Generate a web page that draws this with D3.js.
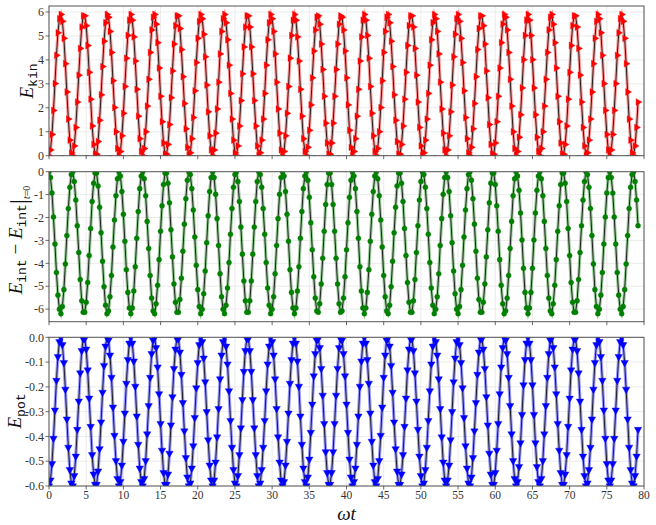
<!DOCTYPE html>
<html><head><meta charset="utf-8">
<script src="https://cdn.jsdelivr.net/npm/d3@7"></script>
<style>body{margin:0;background:#fff}</style>
</head><body><svg id="c" width="656" height="525"></svg>
<script>
// sampling step in omega*t
const dt = 0.2;
const xTicks = [0,5,10,15,20,25,30,35,40,45,50,55,60,65,70,75,80];
const ekinTicks = [0,1,2,3,4,5,6];
const eintTicks = [0,-1,-2,-3,-4,-5,-6];
const epotTicks = [0,-0.1,-0.2,-0.3,-0.4,-0.5,-0.6];

const ekin = [
0,0.24,0.89,1.89,3.01,4.19,5.13,5.72,5.9,5.61,4.9,3.84,2.66,1.53,0.65,0.12,
0,0.41,1.18,2.24,3.36,4.48,5.37,5.84,5.84,5.43,4.6,3.48,2.36,1.24,0.47,0.06,
0.06,0.59,1.48,2.54,3.72,4.78,5.55,5.9,5.78,5.19,4.31,3.13,2.01,1,0.3,0,
0.18,0.83,1.77,2.89,4.07,5.02,5.66,5.9,5.66,4.96,3.95,2.77,1.65,0.71,0.18,
0,0.3,1,2.07,3.19,4.31,5.25,5.78,5.9,5.49,4.72,3.66,2.48,1.42,0.53,0.06,
0.06,0.47,1.3,2.42,3.54,4.66,5.43,5.84,5.84,5.31,4.43,3.3,2.18,1.12,0.35,0,
0.12,0.71,1.59,2.71,3.89,4.9,5.61,5.9,5.72,5.07,4.13,2.95,1.83,0.83,0.24,
0,0.24,0.94,1.95,3.07,4.25,5.19,5.72,5.9,5.55,4.84,3.78,2.6,1.53,0.65,0.12,
0,0.41,1.24,2.3,3.42,4.54,5.37,5.84,5.84,5.37,4.54,3.42,2.3,1.24,0.41,0,
0.12,0.65,1.53,2.6,3.78,4.84,5.55,5.9,5.72,5.19,4.25,3.07,1.95,0.94,0.24,0,
0.18,0.83,1.77,2.89,4.07,5.02,5.66,5.9,5.66,4.96,3.95,2.77,1.65,0.71,0.18,
0,0.35,1.06,2.12,3.25,4.37,5.25,5.78,5.84,5.49,4.66,3.6,2.48,1.36,0.53,0.06,
0.06,0.53,1.36,2.48,3.6,4.66,5.49,5.84,5.78,5.25,4.37,3.25,2.12,1.06,0.35,0,
0.18,0.71,1.65,2.77,3.95,4.96,5.66,5.9,5.66,5.02,4.07,2.89,1.77,0.83,0.18,
0,0.3,1,2.01,3.13,4.31,5.19,5.78,5.9,5.55,4.78,3.72,2.54,1.48,0.59,0.06,
0.06,0.47,1.24,2.36,3.48,4.6,5.43,5.84,5.84,5.37,4.48,3.36,2.24,1.18,0.41,0,
0.12,0.65,1.53,2.6,3.78,4.84,5.55,5.9,5.72,5.19,4.25,3.07,1.95,0.94,0.24,0,
0.24,0.83,1.83,2.95,4.13,5.07,5.72,5.9,5.61,4.9,3.89,2.71,1.59,0.71,0.12,
0,0.35,1.12,2.18,3.3,4.43,5.31,5.84,5.84,5.43,4.66,3.54,2.42,1.3,0.47,0.06,
0.06,0.53,1.42,2.48,3.66,4.72,5.49,5.9,5.78,5.25,4.31,3.19,2.07,1,0.3,0,
0.18,0.77,1.71,2.83,4.01,5.02,5.66,5.9,5.66,5.02,4.01,2.83,1.71,0.77,0.18,
0,0.3,1,2.07,3.19,4.31,5.25,5.78,5.9,5.49,4.72,3.66,2.48,1.42,0.53,0.06,
0.06,0.47,1.24,2.36,3.48,4.6,5.43,5.84,5.84,5.37,4.48,3.36,2.24,1.18,0.41,0,
0.12,0.65,1.53,2.66,3.84,4.9,5.61,5.9,5.72,5.13,4.19,3.01,1.89,0.89,0.24,
0,0.24,0.89,1.89,3.01,4.19,5.13,5.72,5.9,5.61,4.9,3.84,2.66,1.53,0.65,0.12,
0,0.41,1.18,2.24
];

const eint = [
0,-0.25,-0.93,-1.98,-3.16,-4.4,-5.39,-6.01,-6.2,-5.89,-5.15,-4.03,-2.79,-1.61,-0.68,-0.12,
0,-0.43,-1.24,-2.36,-3.53,-4.71,-5.64,-6.14,-6.14,-5.7,-4.84,-3.66,-2.48,-1.3,-0.5,-0.06,
-0.06,-0.62,-1.55,-2.67,-3.91,-5.02,-5.83,-6.2,-6.08,-5.46,-4.53,-3.29,-2.11,-1.05,-0.31,0,
-0.19,-0.87,-1.86,-3.04,-4.28,-5.27,-5.95,-6.2,-5.95,-5.21,-4.15,-2.91,-1.74,-0.74,-0.19,
0,-0.31,-1.05,-2.17,-3.35,-4.53,-5.52,-6.08,-6.2,-5.77,-4.96,-3.84,-2.6,-1.49,-0.56,-0.06,
-0.06,-0.5,-1.36,-2.54,-3.72,-4.9,-5.7,-6.14,-6.14,-5.58,-4.65,-3.47,-2.29,-1.18,-0.37,0,
-0.12,-0.74,-1.67,-2.85,-4.09,-5.15,-5.89,-6.2,-6.01,-5.33,-4.34,-3.1,-1.92,-0.87,-0.25,
0,-0.25,-0.99,-2.05,-3.22,-4.46,-5.46,-6.01,-6.2,-5.83,-5.08,-3.97,-2.73,-1.61,-0.68,-0.12,
0,-0.43,-1.3,-2.42,-3.6,-4.77,-5.64,-6.14,-6.14,-5.64,-4.77,-3.6,-2.42,-1.3,-0.43,0,
-0.12,-0.68,-1.61,-2.73,-3.97,-5.08,-5.83,-6.2,-6.01,-5.46,-4.46,-3.22,-2.05,-0.99,-0.25,0,
-0.19,-0.87,-1.86,-3.04,-4.28,-5.27,-5.95,-6.2,-5.95,-5.21,-4.15,-2.91,-1.74,-0.74,-0.19,
0,-0.37,-1.12,-2.23,-3.41,-4.59,-5.52,-6.08,-6.14,-5.77,-4.9,-3.78,-2.6,-1.43,-0.56,-0.06,
-0.06,-0.56,-1.43,-2.6,-3.78,-4.9,-5.77,-6.14,-6.08,-5.52,-4.59,-3.41,-2.23,-1.12,-0.37,0,
-0.19,-0.74,-1.74,-2.91,-4.15,-5.21,-5.95,-6.2,-5.95,-5.27,-4.28,-3.04,-1.86,-0.87,-0.19,
0,-0.31,-1.05,-2.11,-3.29,-4.53,-5.46,-6.08,-6.2,-5.83,-5.02,-3.91,-2.67,-1.55,-0.62,-0.06,
-0.06,-0.5,-1.3,-2.48,-3.66,-4.84,-5.7,-6.14,-6.14,-5.64,-4.71,-3.53,-2.36,-1.24,-0.43,0,
-0.12,-0.68,-1.61,-2.73,-3.97,-5.08,-5.83,-6.2,-6.01,-5.46,-4.46,-3.22,-2.05,-0.99,-0.25,0,
-0.25,-0.87,-1.92,-3.1,-4.34,-5.33,-6.01,-6.2,-5.89,-5.15,-4.09,-2.85,-1.67,-0.74,-0.12,
0,-0.37,-1.18,-2.29,-3.47,-4.65,-5.58,-6.14,-6.14,-5.7,-4.9,-3.72,-2.54,-1.36,-0.5,-0.06,
-0.06,-0.56,-1.49,-2.6,-3.84,-4.96,-5.77,-6.2,-6.08,-5.52,-4.53,-3.35,-2.17,-1.05,-0.31,0,
-0.19,-0.81,-1.8,-2.98,-4.22,-5.27,-5.95,-6.2,-5.95,-5.27,-4.22,-2.98,-1.8,-0.81,-0.19,
0,-0.31,-1.05,-2.17,-3.35,-4.53,-5.52,-6.08,-6.2,-5.77,-4.96,-3.84,-2.6,-1.49,-0.56,-0.06,
-0.06,-0.5,-1.3,-2.48,-3.66,-4.84,-5.7,-6.14,-6.14,-5.64,-4.71,-3.53,-2.36,-1.24,-0.43,0,
-0.12,-0.68,-1.61,-2.79,-4.03,-5.15,-5.89,-6.2,-6.01,-5.39,-4.4,-3.16,-1.98,-0.93,-0.25,
0,-0.25,-0.93,-1.98,-3.16,-4.4,-5.39,-6.01,-6.2,-5.89,-5.15,-4.03,-2.79,-1.61,-0.68,-0.12,
0,-0.43,-1.24,-2.36
];

const epot = [
-0.6,-0.576,-0.51,-0.408,-0.294,-0.174,-0.078,-0.018,0,-0.03,-0.102,-0.21,-0.33,-0.444,-0.534,-0.588,
-0.6,-0.558,-0.48,-0.372,-0.258,-0.144,-0.054,-0.006,-0.006,-0.048,-0.132,-0.246,-0.36,-0.474,-0.552,-0.594,
-0.594,-0.54,-0.45,-0.342,-0.222,-0.114,-0.036,0,-0.012,-0.072,-0.162,-0.282,-0.396,-0.498,-0.57,-0.6,
-0.582,-0.516,-0.42,-0.306,-0.186,-0.09,-0.024,0,-0.024,-0.096,-0.198,-0.318,-0.432,-0.528,-0.582,
-0.6,-0.57,-0.498,-0.39,-0.276,-0.162,-0.066,-0.012,0,-0.042,-0.12,-0.228,-0.348,-0.456,-0.546,-0.594,
-0.594,-0.552,-0.468,-0.354,-0.24,-0.126,-0.048,-0.006,-0.006,-0.06,-0.15,-0.264,-0.378,-0.486,-0.564,-0.6,
-0.588,-0.528,-0.438,-0.324,-0.204,-0.102,-0.03,0,-0.018,-0.084,-0.18,-0.3,-0.414,-0.516,-0.576,
-0.6,-0.576,-0.504,-0.402,-0.288,-0.168,-0.072,-0.018,0,-0.036,-0.108,-0.216,-0.336,-0.444,-0.534,-0.588,
-0.6,-0.558,-0.474,-0.366,-0.252,-0.138,-0.054,-0.006,-0.006,-0.054,-0.138,-0.252,-0.366,-0.474,-0.558,-0.6,
-0.588,-0.534,-0.444,-0.336,-0.216,-0.108,-0.036,0,-0.018,-0.072,-0.168,-0.288,-0.402,-0.504,-0.576,-0.6,
-0.582,-0.516,-0.42,-0.306,-0.186,-0.09,-0.024,0,-0.024,-0.096,-0.198,-0.318,-0.432,-0.528,-0.582,
-0.6,-0.564,-0.492,-0.384,-0.27,-0.156,-0.066,-0.012,-0.006,-0.042,-0.126,-0.234,-0.348,-0.462,-0.546,-0.594,
-0.594,-0.546,-0.462,-0.348,-0.234,-0.126,-0.042,-0.006,-0.012,-0.066,-0.156,-0.27,-0.384,-0.492,-0.564,-0.6,
-0.582,-0.528,-0.432,-0.318,-0.198,-0.096,-0.024,0,-0.024,-0.09,-0.186,-0.306,-0.42,-0.516,-0.582,
-0.6,-0.57,-0.498,-0.396,-0.282,-0.162,-0.072,-0.012,0,-0.036,-0.114,-0.222,-0.342,-0.45,-0.54,-0.594,
-0.594,-0.552,-0.474,-0.36,-0.246,-0.132,-0.048,-0.006,-0.006,-0.054,-0.144,-0.258,-0.372,-0.48,-0.558,-0.6,
-0.588,-0.534,-0.444,-0.336,-0.216,-0.108,-0.036,0,-0.018,-0.072,-0.168,-0.288,-0.402,-0.504,-0.576,-0.6,
-0.576,-0.516,-0.414,-0.3,-0.18,-0.084,-0.018,0,-0.03,-0.102,-0.204,-0.324,-0.438,-0.528,-0.588,
-0.6,-0.564,-0.486,-0.378,-0.264,-0.15,-0.06,-0.006,-0.006,-0.048,-0.126,-0.24,-0.354,-0.468,-0.552,-0.594,
-0.594,-0.546,-0.456,-0.348,-0.228,-0.12,-0.042,0,-0.012,-0.066,-0.162,-0.276,-0.39,-0.498,-0.57,-0.6,
-0.582,-0.522,-0.426,-0.312,-0.192,-0.09,-0.024,0,-0.024,-0.09,-0.192,-0.312,-0.426,-0.522,-0.582,
-0.6,-0.57,-0.498,-0.39,-0.276,-0.162,-0.066,-0.012,0,-0.042,-0.12,-0.228,-0.348,-0.456,-0.546,-0.594,
-0.594,-0.552,-0.474,-0.36,-0.246,-0.132,-0.048,-0.006,-0.006,-0.054,-0.144,-0.258,-0.372,-0.48,-0.558,-0.6,
-0.588,-0.534,-0.444,-0.33,-0.21,-0.102,-0.03,0,-0.018,-0.078,-0.174,-0.294,-0.408,-0.51,-0.576,
-0.6,-0.576,-0.51,-0.408,-0.294,-0.174,-0.078,-0.018,0,-0.03,-0.102,-0.21,-0.33,-0.444,-0.534,-0.588,
-0.6,-0.558,-0.48,-0.372
];

const svg = d3.select('#c');
const left = 49, right = 644;
const x = d3.scaleLinear().domain([0, 80]).range([left, right]);
const serif = "'Liberation Serif','DejaVu Serif',serif";
const mono = "'Liberation Mono','DejaVu Sans Mono',monospace";

const panels = [
  {id:'kin', vals: ekin, top: 6, bottom: 155.7, domain: [0, 6.25], ticks: ekinTicks,
   fmt: d => String(d), color: '#ff0000', marker: 'right'},
  {id:'int', vals: eint, top: 171.7, bottom: 321.7, domain: [-6.55, 0], ticks: eintTicks,
   fmt: d => String(d), color: '#008000', marker: 'circle'},
  {id:'pot', vals: epot, top: 337.3, bottom: 486, domain: [-0.6, 0], ticks: epotTicks,
   fmt: d => d.toFixed(1), color: '#0000ff', marker: 'down'}
];

panels.forEach((p, pi) => {
  const y = d3.scaleLinear().domain(p.domain).range([p.bottom, p.top]);
  const g = svg.append('g');
  const clipId = 'clip-' + p.id;
  svg.append('clipPath').attr('id', clipId).append('rect')
    .attr('x', left).attr('y', p.top).attr('width', right - left).attr('height', p.bottom - p.top);

  // grid
  g.selectAll('.gx').data(xTicks).enter().append('line')
    .attr('x1', d => x(d)).attr('x2', d => x(d)).attr('y1', p.top).attr('y2', p.bottom)
    .attr('stroke', '#e6e6e6').attr('stroke-width', 0.8);
  g.selectAll('.gy').data(p.ticks).enter().append('line')
    .attr('x1', left).attr('x2', right).attr('y1', d => y(d)).attr('y2', d => y(d))
    .attr('stroke', '#e6e6e6').attr('stroke-width', 0.8);

  const pts = p.vals.map((v, i) => [i * dt, v]);
  const line = d3.line().x(d => x(d[0])).y(d => y(d[1]));
  const dg = g.append('g').attr('clip-path', `url(#${clipId})`);

  if (p.id === 'kin') {
    dg.append('line').attr('x1', x(0)).attr('x2', x(80)).attr('y1', y(0)).attr('y2', y(0))
      .attr('stroke', '#1a1a8c').attr('stroke-width', 1).attr('stroke-dasharray', '3,9').attr('opacity', 0.6);
  }

  dg.append('path').datum(pts).attr('d', line).attr('fill', 'none')
    .attr('stroke', p.color).attr('stroke-opacity', 0.4).attr('stroke-width', 3.2);
  dg.append('path').datum(pts).attr('d', line).attr('fill', 'none')
    .attr('stroke', '#111').attr('stroke-width', 0.9);

  let sym, rot;
  if (p.marker === 'right') { sym = d3.symbol(d3.symbolTriangle, 20); rot = 90; }
  else if (p.marker === 'down') { sym = d3.symbol(d3.symbolTriangle, 24); rot = 180; }
  else { sym = d3.symbol(d3.symbolCircle, 20); rot = 0; }
  dg.selectAll('.m').data(pts).enter().append('path')
    .attr('d', sym)
    .attr('transform', d => `translate(${x(d[0])},${y(d[1])}) rotate(${rot})`)
    .attr('fill', p.color).attr('stroke', p.color).attr('stroke-opacity', 0.5).attr('stroke-width', 0.8);

  // frame
  g.append('rect').attr('x', left).attr('y', p.top).attr('width', right - left).attr('height', p.bottom - p.top)
    .attr('fill', 'none').attr('stroke', '#555').attr('stroke-width', 1);

  // y ticks
  g.selectAll('.ty').data(p.ticks).enter().append('line')
    .attr('x1', left - 3.5).attr('x2', left).attr('y1', d => y(d)).attr('y2', d => y(d))
    .attr('stroke', '#444').attr('stroke-width', 0.8);
  g.selectAll('.tyl').data(p.ticks).enter().append('text')
    .attr('x', left - 5).attr('y', d => y(d)).attr('dy', '0.35em')
    .attr('text-anchor', 'end').attr('font-family', serif).attr('font-size', 12).attr('fill', '#333')
    .text(p.fmt);

  // x ticks
  g.selectAll('.tx').data(xTicks).enter().append('line')
    .attr('x1', d => x(d)).attr('x2', d => x(d)).attr('y1', p.bottom).attr('y2', p.bottom + 3.5)
    .attr('stroke', '#444').attr('stroke-width', 0.8);
  if (pi === 2) {
    g.selectAll('.txl').data(xTicks).enter().append('text')
      .attr('x', d => x(d)).attr('y', p.bottom + 12.5)
      .attr('text-anchor', 'middle').attr('font-family', serif).attr('font-size', 11.5).attr('fill', '#333')
      .text(d => d);
  }
});

// y labels
function ylab(cx, cy, build) {
  const t = svg.append('text').attr('transform', `translate(${cx},${cy}) rotate(-90)`)
    .attr('text-anchor', 'middle').attr('fill', '#111');
  build(t);
}
ylab(33, 81, t => {
  t.append('tspan').attr('font-family', serif).attr('font-style', 'italic').attr('font-size', 19).text('E');
  t.append('tspan').attr('font-family', mono).attr('font-size', 13).attr('dy', 4).text('kin');
});
ylab(22, 240, t => {
  t.append('tspan').attr('font-family', serif).attr('font-style', 'italic').attr('font-size', 19).text('E');
  t.append('tspan').attr('font-family', mono).attr('font-size', 13).attr('dy', 4).text('int');
  t.append('tspan').attr('font-family', serif).attr('font-size', 19).attr('dy', -4).text(' \u2212 ');
  t.append('tspan').attr('font-family', serif).attr('font-style', 'italic').attr('font-size', 19).text('E');
  t.append('tspan').attr('font-family', mono).attr('font-size', 13).attr('dy', 4).text('int');
  t.append('tspan').attr('font-family', serif).attr('font-size', 25).attr('dy', 1).text('|');
  t.append('tspan').attr('font-family', serif).attr('font-style', 'italic').attr('font-size', 10).attr('dy', 3).text('t');
  t.append('tspan').attr('font-family', serif).attr('font-size', 10).text('=0');
});
ylab(21, 411, t => {
  t.append('tspan').attr('font-family', serif).attr('font-style', 'italic').attr('font-size', 19).text('E');
  t.append('tspan').attr('font-family', mono).attr('font-size', 13).attr('dy', 4).text('pot');
});

svg.append('text').attr('x', (left + right) / 2).attr('y', 520)
  .attr('text-anchor', 'middle').attr('font-family', serif).attr('font-style', 'italic')
  .attr('font-size', 19).attr('fill', '#111').text('\u03c9t');
</script>
</body></html>
